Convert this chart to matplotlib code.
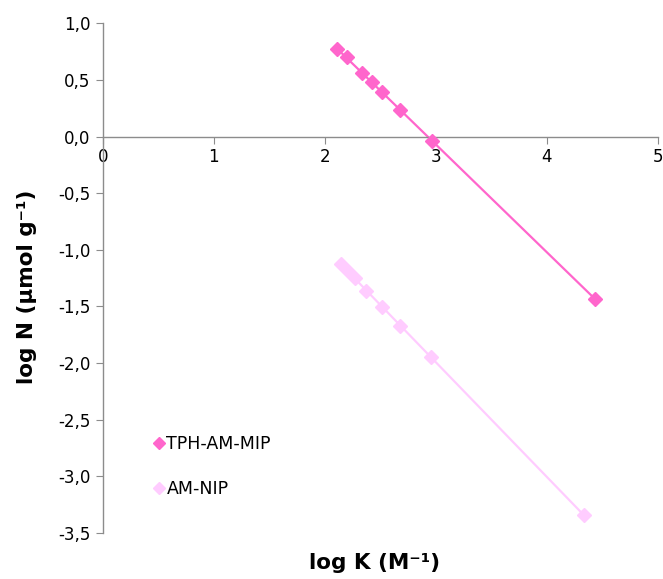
import matplotlib.pyplot as plt
import numpy as np
from matplotlib.ticker import FuncFormatter

# log K vs log N (Freundlich plot)
mip_x = [2.11, 2.195, 2.33, 2.42, 2.515, 2.68, 2.968, 4.433]
mip_y = [0.773, 0.700, 0.563, 0.479, 0.391, 0.235, -0.036, -1.436]
nip_x = [2.143, 2.206, 2.269, 2.374, 2.514, 2.674, 2.959, 4.331]
nip_y = [-1.124, -1.186, -1.248, -1.363, -1.501, -1.672, -1.948, -3.340]

mip_color = '#FF66CC'
nip_color = '#FFCCFF'

fig = plt.figure(figsize=(6.63, 5.79), dpi=100)
ax = fig.add_axes([0.155, 0.0794, 0.8375, 0.8804])

for xs, ys, c, name in [(mip_x, mip_y, mip_color, 'TPH-AM-MIP'),
                        (nip_x, nip_y, nip_color, 'AM-NIP')]:
    p = np.polyfit(xs, ys, 1)
    xx = np.array([min(xs), max(xs)])
    ax.plot(xx, np.polyval(p, xx), color=c, lw=1.6, zorder=2)
    ax.plot(xs, ys, 'D', color=c, ms=7, mec=c, label=name, zorder=3)

ax.set_xlim(0, 5)
ax.set_ylim(-3.5, 1.0)
ax.set_xticks(np.arange(0, 6, 1))
ax.set_yticks(np.arange(-3.5, 1.01, 0.5))
ax.yaxis.set_major_formatter(FuncFormatter(lambda v, pos: ('%.1f' % v).replace('.', ',')))

ax.spines['top'].set_visible(False)
ax.spines['right'].set_visible(False)
ax.spines['bottom'].set_position(('data', 0))
for s in ['left', 'bottom']:
    ax.spines[s].set_color('#8c8c8c')
    ax.spines[s].set_linewidth(1.0)
ax.tick_params(axis='both', colors='#8c8c8c', labelcolor='black', labelsize=12, length=5)
ax.tick_params(axis='x', direction='out', pad=3)
ax.tick_params(axis='y', pad=4)

fig.text(0.040, 0.504, 'log N (µmol g⁻¹)', rotation=90, ha='center', va='center',
         fontsize=15.5, fontweight='bold')
fig.text(0.565, 0.028, 'log K (M⁻¹)', ha='center', va='center',
         fontsize=15.5, fontweight='bold')

ax.legend(loc='upper left', bbox_to_anchor=(0.063, 0.222), frameon=False, fontsize=12.5,
          handlelength=0.6, handletextpad=0.15, labelspacing=1.55, markerscale=0.9)

fig.savefig('out.png', dpi=100)
